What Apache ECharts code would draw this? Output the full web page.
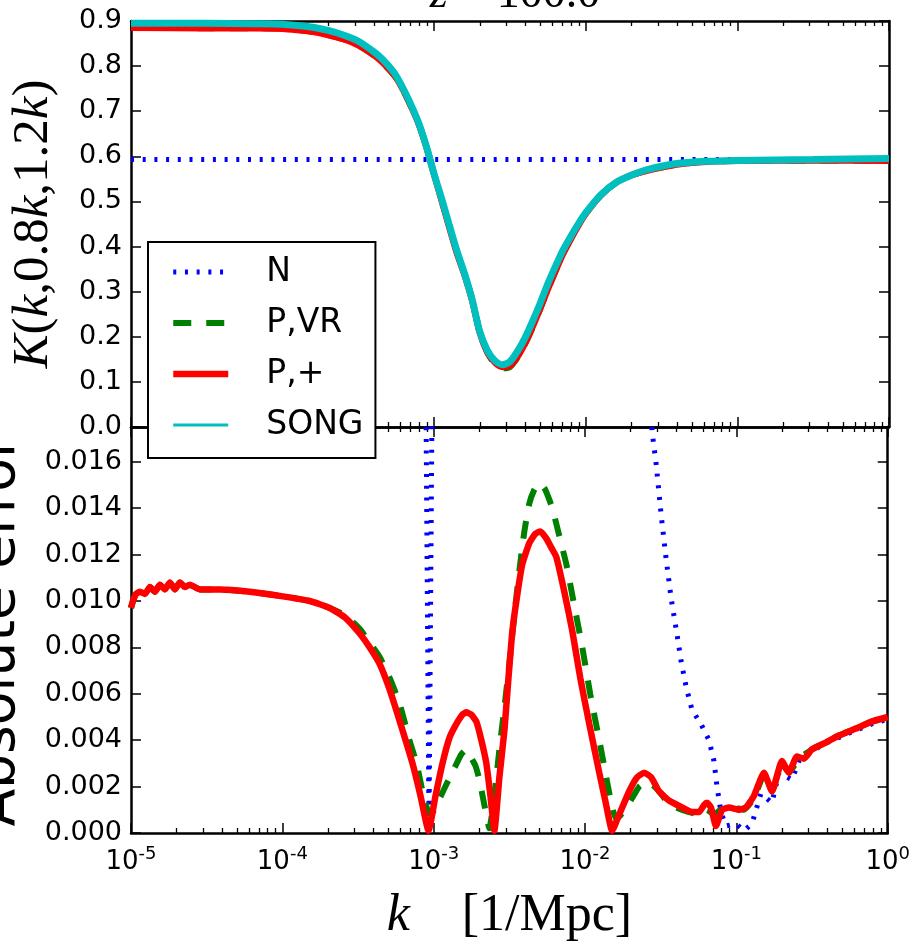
<!DOCTYPE html>
<html><head><meta charset="utf-8">
<script src="https://cdn.jsdelivr.net/npm/echarts@6/dist/echarts.min.js"></script>
<style>html,body{margin:0;padding:0;background:#fff}#c{width:913px;height:943px}</style>
</head><body><div id="c"></div>
<script>
// ---------------- DATA (x stored as log10 k) ----------------
// Top panel: kernel K(k,0.8k,1.2k)
const topLogK = [-5,-4.5,-4.2,-4.0,-3.9,-3.8,-3.7,-3.6,-3.5,-3.4,-3.35,-3.3,-3.25,-3.2,-3.15,-3.1,-3.05,-3.0,-2.95,-2.9,-2.85,-2.8,-2.75,-2.7,-2.65,-2.6,-2.55,-2.5,-2.45,-2.4,-2.35,-2.3,-2.25,-2.2,-2.15,-2.1,-2.05,-2.0,-1.9,-1.8,-1.7,-1.6,-1.4,-1.2,-1.0,-0.5,0];
const topSONG = [0.895,0.895,0.894,0.893,0.890,0.886,0.879,0.869,0.855,0.832,0.818,0.800,0.778,0.747,0.712,0.672,0.620,0.560,0.505,0.447,0.390,0.340,0.283,0.212,0.170,0.147,0.138,0.145,0.168,0.198,0.235,0.275,0.318,0.356,0.392,0.422,0.450,0.475,0.515,0.542,0.558,0.570,0.584,0.589,0.591,0.593,0.595];
const topPplus = [0.885,0.884,0.884,0.883,0.880,0.876,0.869,0.860,0.846,0.825,0.811,0.794,0.774,0.744,0.709,0.670,0.619,0.559,0.501,0.442,0.385,0.337,0.281,0.210,0.166,0.143,0.133,0.136,0.156,0.186,0.223,0.264,0.306,0.346,0.384,0.416,0.446,0.473,0.514,0.542,0.558,0.568,0.582,0.588,0.590,0.591,0.590];
const topPVR = [0.885,0.884,0.884,0.883,0.880,0.876,0.869,0.860,0.846,0.824,0.810,0.793,0.773,0.743,0.708,0.670,0.619,0.560,0.503,0.445,0.390,0.340,0.284,0.211,0.165,0.140,0.130,0.133,0.154,0.184,0.221,0.262,0.305,0.345,0.384,0.417,0.447,0.473,0.514,0.542,0.558,0.568,0.582,0.588,0.590,0.591,0.590];
const topNLogK = [-5, 0];
const topN = [0.593, 0.593];

// Bottom panel: absolute error
const errPplusLogK = [-5.000,-4.987,-4.967,-4.941,-4.908,-4.875,-4.842,-4.809,-4.776,-4.743,-4.710,-4.677,-4.644,-4.611,-4.545,-4.413,-4.215,-3.997,-3.819,-3.687,-3.588,-3.489,-3.423,-3.358,-3.292,-3.226,-3.140,-3.087,-3.034,-2.988,-2.942,-2.896,-2.850,-2.810,-2.784,-2.751,-2.718,-2.685,-2.652,-2.625,-2.599,-2.566,-2.533,-2.507,-2.480,-2.447,-2.414,-2.368,-2.328,-2.296,-2.256,-2.223,-2.190,-2.137,-2.084,-2.032,-1.972,-1.906,-1.860,-1.821,-1.774,-1.708,-1.656,-1.609,-1.563,-1.511,-1.445,-1.359,-1.293,-1.247,-1.214,-1.194,-1.168,-1.135,-1.095,-1.049,-0.983,-0.937,-0.884,-0.818,-0.765,-0.699,-0.653,-0.600,-0.554,-0.501,-0.409,-0.323,-0.211,-0.106,0.000];
const errPplus = [0.0097,0.0100,0.0103,0.0104,0.0103,0.0106,0.0104,0.0107,0.0105,0.0108,0.0105,0.0108,0.0106,0.0107,0.0105,0.0105,0.0104,0.0102,0.0100,0.0097,0.0093,0.0086,0.0080,0.0073,0.0062,0.00485,0.0030,0.0016,0.0001,0.0016,0.0030,0.0041,0.0047,0.0051,0.0052,0.0051,0.0048,0.0040,0.0030,0.0016,0.0001,0.0024,0.0044,0.0066,0.0087,0.0103,0.0116,0.0125,0.0129,0.0130,0.0127,0.0123,0.0119,0.0104,0.0087,0.0067,0.0047,0.0026,0.0012,0.0001,0.0008,0.0018,0.0024,0.0026,0.0024,0.0018,0.0014,0.0011,0.0009,0.0009,0.0012,0.0013,0.0011,0.0003,0.0010,0.0011,0.0010,0.0011,0.0016,0.0026,0.0018,0.0031,0.0026,0.0033,0.0032,0.0036,0.0039,0.0042,0.0045,0.0048,0.0050];

const errPVRLogK = [-5.000,-4.987,-4.967,-4.941,-4.908,-4.875,-4.842,-4.809,-4.776,-4.743,-4.710,-4.677,-4.644,-4.611,-4.545,-4.413,-4.215,-3.997,-3.819,-3.687,-3.588,-3.489,-3.423,-3.358,-3.292,-3.226,-3.160,-3.113,-3.074,-3.041,-3.015,-2.982,-2.916,-2.863,-2.817,-2.784,-2.757,-2.724,-2.698,-2.665,-2.632,-2.599,-2.566,-2.533,-2.500,-2.467,-2.434,-2.401,-2.368,-2.335,-2.302,-2.263,-2.216,-2.170,-2.124,-2.071,-2.018,-1.966,-1.906,-1.854,-1.821,-1.794,-1.761,-1.689,-1.642,-1.596,-1.557,-1.511,-1.464,-1.398,-1.313,-1.247,-1.194,-1.148,-1.082,-1.016,-0.950,-0.884,-0.818,-0.765,-0.699,-0.653,-0.587,-0.501,-0.323,-0.106,0.000];
const errPVR = [0.0097,0.0100,0.0103,0.0104,0.0103,0.0106,0.0104,0.0107,0.0105,0.0108,0.0105,0.0108,0.0106,0.0107,0.0105,0.0105,0.0104,0.0102,0.0100,0.0097,0.0094,0.0088,0.0082,0.0076,0.0067,0.0056,0.0040,0.0030,0.0018,0.0010,0.0008,0.0012,0.0021,0.0028,0.0034,0.0036,0.0033,0.0029,0.0023,0.0012,0.0002,0.0016,0.0036,0.0054,0.0073,0.0094,0.0113,0.0130,0.0142,0.0148,0.0151,0.0148,0.0140,0.0128,0.0116,0.0098,0.0080,0.0060,0.0040,0.0022,0.0011,0.0006,0.0008,0.0015,0.0020,0.0022,0.0021,0.0018,0.0014,0.0011,0.0009,0.0008,0.0010,0.0008,0.0011,0.0011,0.0010,0.0015,0.0025,0.0018,0.0030,0.0026,0.0032,0.0036,0.0042,0.0048,0.0050];

// N error: narrow V near k~1e-3, then descending branch from k~0.027
const errNLeftLogK = [-3.051,-3.031,-3.011];
const errNLeft = [0.0185,0.0003,0.0185];
const errNRightLogK = [-1.570,-1.557,-1.530,-1.497,-1.464,-1.431,-1.398,-1.365,-1.332,-1.293,-1.234,-1.181,-1.148,-1.128,-1.102,-1.069,-1.003,-0.950,-0.897,-0.838,-0.765,-0.719,-0.633,-0.587,-0.435,-0.257,-0.106,0.000];
const errNRight = [0.0185,0.0173,0.0159,0.0137,0.0118,0.0101,0.0088,0.0074,0.0063,0.0053,0.0047,0.0040,0.0031,0.0020,0.0009,0.0003,0.0004,0.0001,0.0004,0.0017,0.0013,0.0026,0.0023,0.0031,0.0038,0.0043,0.0047,0.0049];

// Axis ranges
const xMin = 1e-5, xMax = 1;
const topYInterval = 0.1, topYMax = 0.9;
const botYInterval = 0.002, botYMax = 0.0175;

// ---------------- CHART ----------------
const pts = (lk, v) => lk.map((x, i) => [Math.pow(10, x), v[i]]);
const FONT = 'DejaVu Sans';
const SERIF = 'Liberation Serif';
const BLACK = '#000';

function xAx(grid, pos, labels) {
  const a = {
    type: 'log', gridIndex: grid, position: pos, min: xMin, max: xMax,
    axisLine: { show: true, onZero: false, lineStyle: { color: BLACK, width: 2.5 } },
    splitLine: { show: false },
    axisTick: { show: true, inside: true, length: 10, lineStyle: { color: BLACK, width: 1.5 } },
    minorTick: { show: true, splitNumber: 9, length: 5, lineStyle: { color: BLACK, width: 1.3 } },
    minorSplitLine: { show: false },
    axisLabel: { show: false }
  };
  if (labels) {
    a.axisLabel = {
      show: true, margin: 12,
      formatter: v => '{b|10}{s|' + Math.round(Math.log10(v)) + '}',
      rich: {
        b: { fontFamily: FONT, fontSize: 26, color: BLACK, lineHeight: 30, verticalAlign: 'bottom' },
        s: { fontFamily: FONT, fontSize: 18, color: BLACK, lineHeight: 18, verticalAlign: 'top' }
      }
    };
    a.name = '{i|k}    [1/Mpc]';
    a.nameLocation = 'middle';
    a.nameGap = 57;
    a.nameTextStyle = { fontFamily: SERIF, fontSize: 52, color: BLACK,
      rich: { i: { fontFamily: SERIF, fontStyle: 'italic', fontSize: 52, color: BLACK } } };
  }
  return a;
}
function yAx(grid, pos, max, interval, labels, digits) {
  return {
    type: 'value', gridIndex: grid, position: pos, min: 0, max: max, interval: interval,
    axisLine: { show: true, onZero: false, lineStyle: { color: BLACK, width: 2.5 } },
    splitLine: { show: false },
    axisTick: { show: true, inside: true, length: 10, lineStyle: { color: BLACK, width: 1.5 } },
    axisLabel: labels ? { show: true, margin: 9, fontFamily: FONT, fontSize: 27, color: BLACK,
      showMaxLabel: grid === 0, formatter: v => v.toFixed(digits) } : { show: false }
  };
}

const chart = echarts.init(document.getElementById('c'), null, { renderer: 'canvas' });
const top0 = yAx(0, 'left', topYMax, topYInterval, true, 1);
top0.name = '{c|K}({i|k},0.8{i|k},1.2{i|k})';
top0.nameLocation = 'middle';
top0.nameRotate = 90;
top0.nameGap = 72;
top0.nameTextStyle = { fontFamily: SERIF, fontSize: 51, color: BLACK,
  rich: { i: { fontFamily: SERIF, fontStyle: 'italic', fontSize: 51, color: BLACK },
          c: { fontFamily: SERIF, fontStyle: 'italic', fontSize: 51, color: BLACK } } };

const dotted = [3, 8.7], dashed = [18, 15];
const lineSeries = (name, xi, yi, data, style, smooth) => ({
  name, type: 'line', xAxisIndex: xi, yAxisIndex: yi, data, symbol: 'none', smooth: smooth || false,
  animation: false, lineStyle: style, itemStyle: { color: style.color }
});
const option = {
  backgroundColor: '#fff',
  title: {
    text: '{i|z} = 100.0', left: 510, top: -33, textAlign: 'center',
    textStyle: { fontFamily: SERIF, fontSize: 46, fontWeight: 'normal', color: BLACK,
      rich: { i: { fontFamily: SERIF, fontStyle: 'italic', fontSize: 46, color: BLACK } } }
  },
  grid: [
    { left: 131, top: 21, width: 758, height: 406 },
    { left: 131, top: 427, width: 758, height: 406 }
  ],
  xAxis: [
    xAx(0, 'bottom', false), xAx(0, 'top', false),
    xAx(1, 'bottom', true), xAx(1, 'top', false)
  ],
  yAxis: [
    top0,
    yAx(0, 'right', topYMax, topYInterval, false, 1),
    yAx(1, 'left', botYMax, botYInterval, true, 3),
    yAx(1, 'right', botYMax, botYInterval, false, 3)
  ],
  graphic: [{
    type: 'text', x: 27, y: 631, rotation: Math.PI / 2,
    style: { text: 'Absolute error', font: '55px "DejaVu Sans"', fill: BLACK, align: 'center', verticalAlign: 'bottom' }
  }],
  legend: {
    orient: 'vertical', left: 148, top: 242,
    padding: [13, 12, 16, 22],
    backgroundColor: '#fff', borderColor: BLACK, borderWidth: 2, borderRadius: 0,
    itemWidth: 55, itemHeight: 14, itemGap: 17,
    itemStyle: { opacity: 0 },
    textStyle: { fontFamily: FONT, fontSize: 33, color: BLACK, lineHeight: 34, padding: [0, 0, 0, 33] },
    data: [
      { name: 'N', lineStyle: { width: 5, type: dotted, cap: 'butt' } },
      { name: 'P,VR', lineStyle: { width: 6, type: dashed, cap: 'butt' } },
      { name: 'P,+', lineStyle: { width: 6.5 } },
      { name: 'SONG', lineStyle: { width: 3 } }
    ]
  },
  series: [
    lineSeries('N', 0, 0, pts(topNLogK, topN), { color: '#0000ff', width: 5, type: dotted, cap: 'butt' }),
    lineSeries('P,VR', 0, 0, pts(topLogK, topPVR), { color: '#008000', width: 6, type: dashed, cap: 'butt' }, 0.25),
    lineSeries('P,+', 0, 0, pts(topLogK, topPplus), { color: '#ff0000', width: 6.5 }, 0.25),
    lineSeries('SONG', 0, 0, pts(topLogK, topSONG), { color: '#00bfbf', width: 7 }, 0.25),
    lineSeries('N', 2, 2, pts(errNLeftLogK, errNLeft), { color: '#0000ff', width: 5, type: dotted, cap: 'butt' }),
    lineSeries('N', 2, 2, pts(errNRightLogK, errNRight), { color: '#0000ff', width: 5, type: dotted, cap: 'butt' }),
    lineSeries('P,VR', 2, 2, pts(errPVRLogK, errPVR), { color: '#008000', width: 6, type: dashed, cap: 'butt' }, 0.15),
    lineSeries('P,+', 2, 2, pts(errPplusLogK, errPplus), { color: '#ff0000', width: 6.5 }, 0.15)
  ]
};
chart.setOption(option);
</script>
</body></html>
